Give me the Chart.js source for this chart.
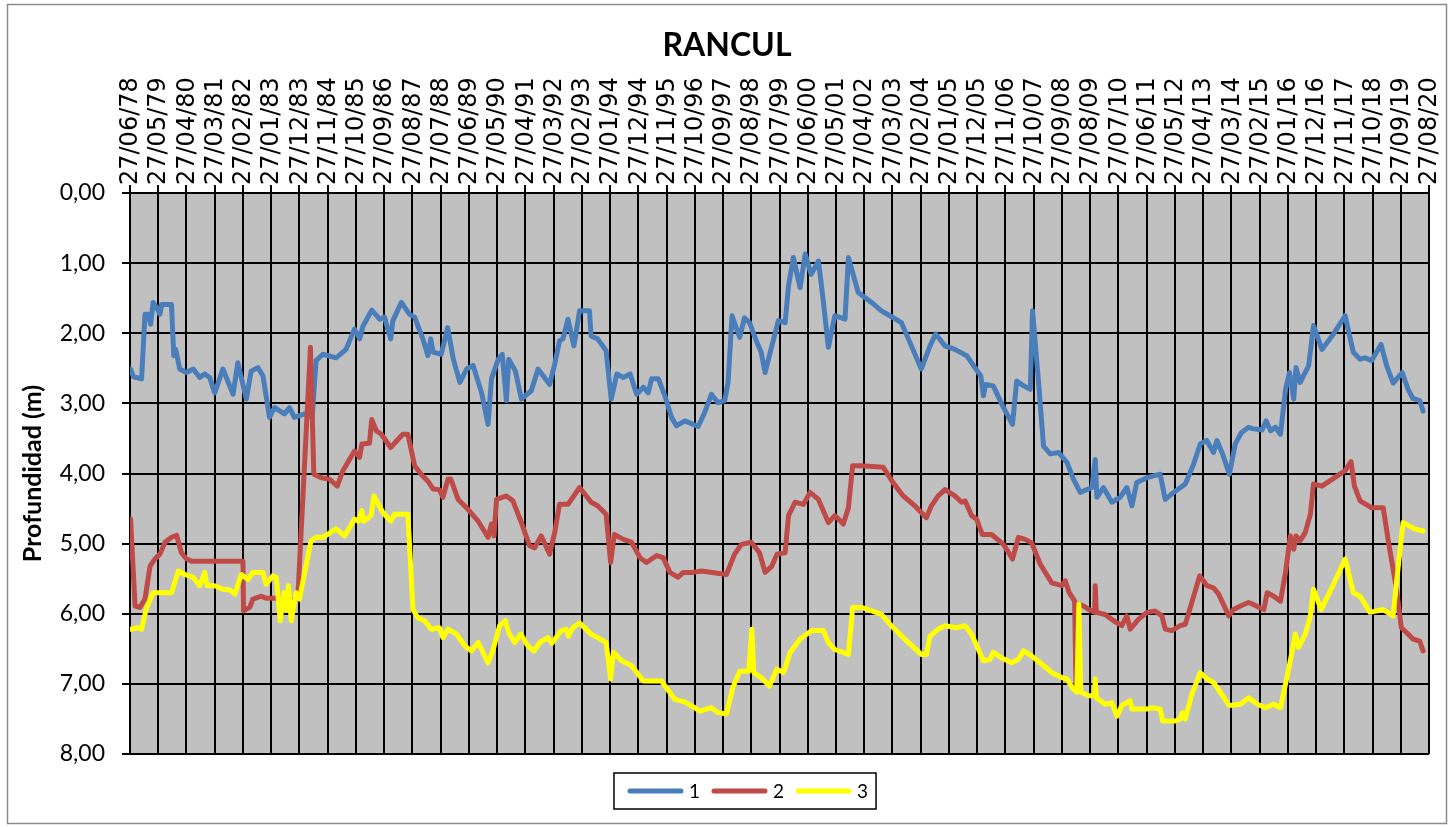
<!DOCTYPE html>
<html lang="es">
<head>
<meta charset="utf-8">
<title>RANCUL</title>
<script src="https://cdn.jsdelivr.net/npm/chart.js@4.4.1/dist/chart.umd.min.js"></script>
<style>
  html, body { margin: 0; padding: 0; background: #fff; }
  #wrap { width: 1453px; height: 827px; }
</style>
</head>
<body>
<div id="wrap"><canvas id="rancul" width="1453" height="827"></canvas></div>
<script>
// Axis labels (one step = 11 months, starting 27/06/78)
const dateLabels = [
    '27/06/78', '27/05/79', '27/04/80', '27/03/81', '27/02/82', '27/01/83', '27/12/83', '27/11/84',
    '27/10/85', '27/09/86', '27/08/87', '27/07/88', '27/06/89', '27/05/90', '27/04/91', '27/03/92',
    '27/02/93', '27/01/94', '27/12/94', '27/11/95', '27/10/96', '27/09/97', '27/08/98', '27/07/99',
    '27/06/00', '27/05/01', '27/04/02', '27/03/03', '27/02/04', '27/01/05', '27/12/05', '27/11/06',
    '27/10/07', '27/09/08', '27/08/09', '27/07/10', '27/06/11', '27/05/12', '27/04/13', '27/03/14',
    '27/02/15', '27/01/16', '27/12/16', '27/11/17', '27/10/18', '27/09/19', '27/08/20'
];
const depthTicks = [0, 1, 2, 3, 4, 5, 6, 7, 8];
const seriesNames = ['1', '2', '3'];

// Well 1 - position in label steps, depth in m
const s1Pos = [
    0.02, 0.12, 0.41, 0.53, 0.65, 0.73, 0.82, 0.94, 1.06, 1.12, 1.47, 1.55, 1.62, 1.76, 2.0, 2.24,
    2.47, 2.65, 2.82, 3.0, 3.29, 3.65, 3.82, 4.12, 4.29, 4.53, 4.71, 4.94, 5.12, 5.47, 5.65, 5.82,
    6.18, 6.45, 6.59, 6.83, 7.30, 7.65, 7.95, 8.13, 8.25, 8.56, 8.84, 9.01, 9.23, 9.31, 9.61, 9.90,
    10.08, 10.37, 10.55, 10.65, 10.73, 11.02, 11.25, 11.45, 11.68, 11.92, 12.15, 12.45, 12.68, 12.8,
    13.04, 13.18, 13.33, 13.41, 13.65, 13.86, 14.21, 14.45, 14.86, 15.04, 15.21, 15.33, 15.51, 15.72,
    15.92, 16.27, 16.33, 16.56, 16.86, 17.04, 17.24, 17.47, 17.71, 17.94, 18.18, 18.35, 18.47, 18.71,
    18.94, 19.18, 19.35, 19.65, 20.12, 20.35, 20.59, 20.82, 21.06, 21.18, 21.32, 21.59, 21.76, 21.94,
    22.18, 22.35, 22.49, 22.73, 22.96, 23.2, 23.32, 23.49, 23.73, 23.91, 24.12, 24.38, 24.55, 24.73,
    24.96, 25.32, 25.44, 25.62, 25.79, 26.26, 26.61, 26.91, 27.32, 27.67, 28.02, 28.33, 28.53, 28.86,
    29.21, 29.63, 29.92, 30.13, 30.22, 30.30, 30.57, 30.87, 31.25, 31.40, 31.64, 31.88, 31.96, 32.17,
    32.35, 32.59, 32.88, 33.18, 33.41, 33.65, 33.95, 34.06, 34.18, 34.24, 34.47, 34.77, 35.06, 35.30,
    35.48, 35.65, 36.01, 36.48, 36.66, 36.96, 37.37, 37.66, 37.90, 38.13, 38.37, 38.49, 38.69, 38.93,
    39.14, 39.35, 39.61, 39.74, 40.09, 40.23, 40.39, 40.56, 40.74, 40.92, 41.06, 41.21, 41.29, 41.44,
    41.74, 41.91, 42.21, 42.62, 43.03, 43.32, 43.56, 43.73, 43.97, 44.30, 44.50, 44.73, 45.05, 45.26,
    45.43, 45.67, 45.79
];
const s1Depth = [
    2.51, 2.62, 2.65, 1.73, 1.73, 1.87, 1.56, 1.63, 1.73, 1.59, 1.59, 2.32, 2.23, 2.51, 2.56, 2.51,
    2.63, 2.58, 2.63, 2.85, 2.51, 2.87, 2.42, 2.94, 2.54, 2.49, 2.61, 3.20, 3.06, 3.15, 3.06, 3.20,
    3.15, 3.20, 2.39, 2.30, 2.35, 2.23, 1.94, 2.08, 1.90, 1.67, 1.80, 1.77, 2.08, 1.82, 1.56, 1.73,
    1.77, 2.08, 2.32, 2.08, 2.27, 2.30, 1.92, 2.37, 2.70, 2.51, 2.46, 2.85, 3.30, 2.65,
    2.37, 2.30, 2.96, 2.37, 2.54, 2.94, 2.82, 2.51, 2.73, 2.44, 2.11, 2.08, 1.80, 2.18,
    1.68, 1.68, 2.04, 2.08, 2.25, 2.94, 2.58, 2.63, 2.58, 2.87, 2.77, 2.85, 2.65, 2.65,
    2.89, 3.20, 3.32, 3.25, 3.33, 3.13, 2.87, 2.99, 2.96, 2.70, 1.75, 2.06, 1.78, 1.85,
    2.11, 2.27, 2.56, 2.18, 1.82, 1.85, 1.32, 0.92, 1.35, 0.87, 1.16, 0.97, 1.54, 2.20,
    1.75, 1.80, 0.92, 1.18, 1.42, 1.56, 1.68, 1.75, 1.85, 2.18, 2.51, 2.18, 2.01, 2.18,
    2.23, 2.32, 2.49, 2.61, 2.89, 2.73, 2.75, 3.01, 3.30, 2.68, 2.75, 2.80, 1.68, 2.68,
    3.61, 3.72, 3.70, 3.84, 4.08, 4.27, 4.22, 4.20, 3.80, 4.34, 4.20, 4.41, 4.34, 4.20,
    4.46, 4.13, 4.06, 4.01, 4.37, 4.27, 4.15, 3.87, 3.58, 3.53, 3.70, 3.53, 3.72, 4.01,
    3.58, 3.42, 3.34, 3.36, 3.38, 3.25, 3.39, 3.34, 3.44, 2.80, 2.56, 2.94, 2.49, 2.70,
    2.46, 1.89, 2.23, 2.01, 1.75, 2.27, 2.37, 2.35, 2.39, 2.16, 2.46, 2.71, 2.56, 2.80,
    2.93, 2.96, 3.11
];

// Well 2
const s2Pos = [
    0.02, 0.18, 0.35, 0.53, 0.71, 0.88, 1.06, 1.24, 1.47, 1.65, 1.82, 2.0, 2.18, 4.0, 4.02, 4.24,
    4.35, 4.65, 4.82, 5.18, 5.41, 5.94, 6.39, 6.51, 6.77, 7.06, 7.34, 7.54, 7.95, 8.13, 8.21, 8.48,
    8.56, 8.72, 8.90, 9.23, 9.43, 9.66, 9.84, 10.08, 10.31, 10.55, 10.73, 10.96, 11.08, 11.26, 11.36, 11.62,
    11.92, 12.33, 12.68, 12.8, 12.89, 12.98, 13.33, 13.56, 13.86, 14.15, 14.33, 14.56, 14.86, 15.04,
    15.21, 15.51, 15.92, 16.33, 16.56, 16.86, 17.02, 17.15, 17.47, 17.76, 18.06, 18.29, 18.65, 18.88,
    19.12, 19.41, 19.59, 19.94, 20.24, 21.12, 21.41, 21.65, 22.0, 22.29, 22.49, 22.73, 22.91, 23.2,
    23.32, 23.55, 23.85, 24.08, 24.38, 24.73, 24.96, 25.26, 25.44, 25.59, 25.91, 26.67, 27.02, 27.38,
    27.79, 28.2, 28.38, 28.62, 28.86, 29.21, 29.45, 29.57, 29.80, 29.98, 30.18, 30.51, 30.93, 31.25,
    31.46, 31.70, 31.93, 32.23, 32.64, 33.0, 33.12, 33.26, 33.45, 33.50, 33.56, 33.77, 33.95, 34.16,
    34.18, 34.22, 34.53, 34.83, 35.12, 35.30, 35.42, 35.71, 36.01, 36.30, 36.54, 36.66, 36.89, 37.19,
    37.37, 37.60, 37.88, 38.14, 38.37, 38.55, 38.91, 39.08, 39.32, 39.61, 39.74, 40.15, 40.27, 40.50,
    40.74, 40.92, 41.09, 41.21, 41.29, 41.44, 41.62, 41.80, 41.91, 42.21, 42.62, 43.03, 43.24, 43.36,
    43.56, 43.97, 44.38, 44.55, 44.85, 45.02, 45.26, 45.43, 45.67, 45.79
];
const s2Depth = [
    4.65, 5.89, 5.91, 5.79, 5.32, 5.22, 5.15, 4.98, 4.91, 4.88, 5.13, 5.22, 5.25, 5.25, 5.96, 5.91,
    5.79, 5.75, 5.78, 5.78, 5.82, 5.79, 2.20, 4.01, 4.06, 4.08, 4.18, 3.96, 3.68, 3.77, 3.58, 3.57,
    3.23, 3.39, 3.44, 3.63, 3.54, 3.44, 3.44, 3.89, 4.01, 4.11, 4.22, 4.23, 4.34, 4.08, 4.08, 4.37,
    4.49, 4.68, 4.91, 4.72, 4.89, 4.37, 4.32, 4.39, 4.70, 5.03, 5.06, 4.89, 5.15, 4.84,
    4.44, 4.44, 4.20, 4.41, 4.46, 4.58, 5.27, 4.87, 4.94, 4.98, 5.20, 5.27, 5.17, 5.20,
    5.41, 5.48, 5.41, 5.41, 5.39, 5.44, 5.15, 5.01, 4.98, 5.13, 5.41, 5.32, 5.15, 5.13,
    4.60, 4.41, 4.44, 4.27, 4.37, 4.70, 4.60, 4.72, 4.49, 3.89, 3.89, 3.91, 4.13, 4.32,
    4.46, 4.63, 4.46, 4.32, 4.23, 4.32, 4.41, 4.39, 4.60, 4.65, 4.87, 4.87, 5.01, 5.22,
    4.91, 4.94, 4.99, 5.29, 5.56, 5.60, 5.53, 5.70, 5.82, 7.05, 5.86, 5.89, 5.94, 5.98,
    5.60, 5.98, 6.01, 6.10, 6.17, 6.03, 6.22, 6.08, 5.98, 5.96, 6.03, 6.22, 6.24, 6.17,
    6.15, 5.84, 5.46, 5.60, 5.63, 5.72, 6.03, 5.94, 5.89, 5.84, 5.86, 5.94, 5.70, 5.75,
    5.82, 5.41, 4.89, 5.08, 4.89, 4.96, 4.84, 4.58, 4.15, 4.18, 4.07, 3.96, 3.83, 4.18,
    4.39, 4.49, 4.49, 4.94, 5.65, 6.20, 6.29, 6.36, 6.39, 6.53
];

// Well 3
const s3Pos = [
    0.02, 0.29, 0.41, 0.59, 0.82, 1.47, 1.71, 1.94, 2.24, 2.47, 2.65, 2.73, 3.0, 3.29, 3.53, 3.71,
    3.94, 4.18, 4.35, 4.71, 4.82, 5.06, 5.18, 5.32, 5.45, 5.55, 5.61, 5.71, 5.88, 6.0, 6.41, 6.59,
    6.83, 7.30, 7.60, 7.95, 8.09, 8.21, 8.28, 8.54, 8.64, 8.96, 9.23, 9.37, 9.84, 10.02, 10.20, 10.43,
    10.67, 10.96, 11.08, 11.26, 11.56, 11.86, 12.09, 12.33, 12.68, 12.86, 13.09, 13.29, 13.41, 13.62,
    13.84, 14.09, 14.31, 14.51, 14.80, 14.94, 15.27, 15.45, 15.53, 15.68, 15.92, 16.33, 16.56, 16.86,
    17.02, 17.12, 17.41, 17.76, 18.18, 18.82, 19.29, 19.47, 19.65, 20.0, 20.18, 20.59, 20.82, 21.12,
    21.35, 21.59, 21.91, 22.02, 22.09, 22.35, 22.64, 22.91, 23.14, 23.38, 23.73, 24.14, 24.55, 24.73,
    24.96, 25.44, 25.59, 25.91, 26.61, 26.96, 27.38, 28.02, 28.2, 28.33, 28.62, 28.86, 29.27, 29.57,
    29.80, 30.22, 30.46, 30.57, 30.87, 31.22, 31.46, 31.64, 31.93, 32.29, 32.64, 33.0, 33.18, 33.36,
    33.53, 33.60, 33.67, 33.95, 34.16, 34.18, 34.22, 34.53, 34.77, 34.95, 35.12, 35.42, 35.48, 36.01,
    36.19, 36.48, 36.57, 37.01, 37.19, 37.27, 37.37, 37.60, 37.90, 38.14, 38.37, 38.61, 38.93, 39.32,
    39.61, 39.92, 40.21, 40.50, 40.74, 41.03, 41.27, 41.38, 41.62, 41.80, 41.91, 42.18, 42.62, 43.03,
    43.32, 43.56, 43.91, 44.38, 44.73, 44.85, 45.08, 45.49, 45.79
];
const s3Depth = [
    6.22, 6.20, 6.22, 5.91, 5.70, 5.70, 5.39, 5.44, 5.48, 5.60, 5.41, 5.60, 5.60, 5.65, 5.66, 5.72,
    5.44, 5.51, 5.41, 5.41, 5.58, 5.46, 5.48, 6.10, 5.70, 5.95, 5.60, 6.10, 5.70, 5.79, 4.96, 4.91,
    4.91, 4.79, 4.89, 4.65, 4.68, 4.53, 4.68, 4.60, 4.32, 4.56, 4.68, 4.58, 4.58, 5.94, 6.06, 6.10,
    6.22, 6.20, 6.34, 6.22, 6.29, 6.46, 6.53, 6.41, 6.70, 6.51, 6.17, 6.10, 6.27, 6.41,
    6.29, 6.46, 6.53, 6.41, 6.34, 6.42, 6.24, 6.22, 6.32, 6.20, 6.13, 6.29, 6.34, 6.41,
    6.93, 6.55, 6.67, 6.74, 6.96, 6.96, 7.22, 7.24, 7.26, 7.34, 7.39, 7.34, 7.41, 7.43,
    7.05, 6.82, 6.82, 6.22, 6.84, 6.91, 7.03, 6.79, 6.84, 6.55, 6.36, 6.24, 6.24, 6.41,
    6.51, 6.58, 5.91, 5.91, 6.01, 6.17, 6.34, 6.58, 6.58, 6.32, 6.22, 6.17, 6.20, 6.17,
    6.29, 6.67, 6.65, 6.55, 6.63, 6.70, 6.65, 6.53, 6.60, 6.72, 6.84, 6.91, 6.93, 7.05,
    7.12, 5.86, 7.12, 7.17, 7.17, 6.93, 7.20, 7.29, 7.27, 7.46, 7.31, 7.24, 7.36, 7.36,
    7.34, 7.36, 7.53, 7.53, 7.50, 7.41, 7.50, 7.15, 6.84, 6.93, 6.98, 7.12, 7.31, 7.29,
    7.20, 7.29, 7.34, 7.29, 7.34, 6.79, 6.29, 6.48, 6.29, 6.03, 5.65, 5.94, 5.58, 5.22,
    5.70, 5.75, 5.98, 5.94, 6.03, 5.55, 4.70, 4.79, 4.82
];

const seriesColors = ['#4a7ebb', '#be4b48', '#ffff00'];

function toPoints(pos, depth) {
    return pos.map((x, i) => ({ x: x, y: depth[i] }));
}

/**
 * Grey plot area and thin frame round the whole chart
 */
const chartFrame = {
    id: 'chartFrame',
    beforeDraw(chart) {
        const { ctx, chartArea: a, width, height } = chart;
        ctx.save();
        ctx.fillStyle = '#ffffff';
        ctx.fillRect(0, 0, width, height);
        ctx.strokeStyle = '#8c8c8c';
        ctx.lineWidth = 1.5;
        ctx.strokeRect(7.5, 4.5, width - 14, height - 8);
        ctx.fillStyle = '#c0c0c0';
        ctx.fillRect(a.left, a.top, a.right - a.left, a.bottom - a.top);
        ctx.restore();
    }
};

/**
 * Excel style legend: line samples inside a black box
 */
const boxLegend = {
    id: 'boxLegend',
    afterDraw(chart, args, opts) {
        const ctx = chart.ctx;
        ctx.save();
        ctx.font = opts.font;
        const items = chart.data.datasets.map(ds => ({
            label: ds.label,
            color: ds.borderColor,
            w: opts.lineLength + opts.textGap + ctx.measureText(ds.label).width
        }));
        const total = items.reduce((s, it) => s + it.w, 0) + opts.itemGap * (items.length - 1);
        const left = opts.centerX - total / 2;
        const y = opts.centerY;

        ctx.strokeStyle = '#000';
        ctx.lineWidth = 1.5;
        ctx.strokeRect(left - opts.padLeft, y - opts.height / 2, total + opts.padLeft + opts.padRight, opts.height);

        let x = left;
        items.forEach(it => {
            ctx.strokeStyle = it.color;
            ctx.lineWidth = 5;
            ctx.lineCap = 'round';
            ctx.beginPath();
            ctx.moveTo(x + 2, y);
            ctx.lineTo(x + opts.lineLength - 2, y);
            ctx.stroke();
            ctx.fillStyle = '#000';
            ctx.textAlign = 'left';
            ctx.textBaseline = 'middle';
            ctx.fillText(it.label, x + opts.lineLength + opts.textGap, y + 1);
            x += it.w + opts.itemGap;
        });
        ctx.restore();
    }
};

function drawChart() {
    const ctx = document.getElementById('rancul');
    const lineDefaults = {
        borderWidth: 5,
        pointRadius: 0,
        tension: 0,
        fill: false,
        borderJoinStyle: 'round',
        borderCapStyle: 'round'
    };

    const data = {
        datasets: [
            Object.assign({ label: seriesNames[0], data: toPoints(s1Pos, s1Depth), borderColor: seriesColors[0], backgroundColor: seriesColors[0], order: 3 }, lineDefaults),
            Object.assign({ label: seriesNames[1], data: toPoints(s2Pos, s2Depth), borderColor: seriesColors[1], backgroundColor: seriesColors[1], order: 2 }, lineDefaults),
            Object.assign({ label: seriesNames[2], data: toPoints(s3Pos, s3Depth), borderColor: seriesColors[2], backgroundColor: seriesColors[2], order: 1 }, lineDefaults)
        ]
    };

    const gridStyle = { color: '#000', lineWidth: 2, tickLength: 8 };
    const dateFontSize = 24;

    new Chart(ctx, {
        type: 'line',
        data: data,
        plugins: [chartFrame, boxLegend],
        options: {
            responsive: false,
            animation: false,
            layout: { padding: { left: 25, right: 24, top: 0, bottom: 73 } },
            plugins: {
                legend: { display: false },
                tooltip: { enabled: false },
                title: {
                    display: true,
                    text: 'RANCUL',
                    color: '#000',
                    font: { family: 'Lato', size: 32, weight: 'bold' },
                    padding: { top: 26, bottom: 6 }
                },
                boxLegend: {
                    font: '19px Lato',
                    centerX: 748,
                    centerY: 791,
                    height: 36,
                    lineLength: 55,
                    textGap: 6,
                    itemGap: 12,
                    padLeft: 14,
                    padRight: 8
                }
            },
            scales: {
                x: {
                    type: 'linear',
                    position: 'top',
                    min: 0,
                    max: dateLabels.length - 1,
                    afterFit: scale => { scale.height = 122.6; },
                    ticks: {
                        stepSize: 1,
                        autoSkip: false,
                        minRotation: 90,
                        maxRotation: 90,
                        padding: 0,
                        // rotated labels are pushed one line height to the left, put them back on the tick
                        labelOffset: dateFontSize * 1.2 + 1,
                        color: '#000',
                        font: { family: 'DejaVu Sans', size: dateFontSize },
                        callback: v => dateLabels[v]
                    },
                    grid: gridStyle,
                    border: { color: '#000', width: 2 }
                },
                y: {
                    type: 'linear',
                    reverse: true,
                    min: depthTicks[0],
                    max: depthTicks[depthTicks.length - 1],
                    afterFit: scale => { scale.width = 105; },
                    ticks: {
                        stepSize: 1,
                        padding: 17,
                        color: '#000',
                        font: { family: 'Lato', size: 23 },
                        callback: v => v.toFixed(2).replace('.', ',')
                    },
                    grid: gridStyle,
                    border: { color: '#000', width: 2 },
                    title: {
                        display: true,
                        text: 'Profundidad (m)',
                        color: '#000',
                        font: { family: 'Lato', size: 25, weight: 'bold' },
                        padding: { top: -7, bottom: 0 }
                    }
                }
            }
        }
    });
}

const fontsNeeded = ['bold 32px Lato', '23px Lato', 'bold 25px Lato', '24px "DejaVu Sans"'];
Promise.all(fontsNeeded.map(f => document.fonts.load(f)))
    .catch(() => null)
    .then(drawChart);
</script>
</body>
</html>
